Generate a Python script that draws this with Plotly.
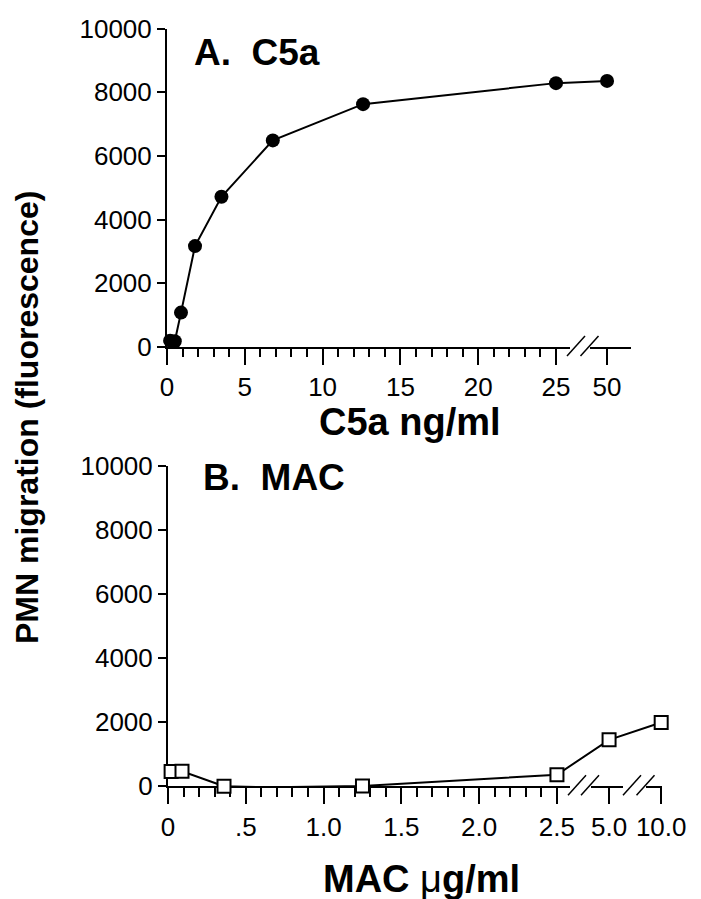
import plotly.graph_objects as go

# ---------------- data ----------------
c5a_conc = [0.2, 0.5, 0.9, 1.8, 3.5, 6.8, 12.6, 25, 50]          # ng/ml
c5a_migration = [200, 180, 1080, 3170, 4720, 6490, 7630, 8290, 8360]

mac_conc = [0.02, 0.09, 0.36, 0.67, 1.25, 2.5, 5.0, 10.0]          # ug/ml
mac_migration = [460, 470, 0, -30, 10, 360, 1450, 1990]

a_tick_vals = [0, 5, 10, 15, 20, 25, 50]
a_tick_text = ["0", "5", "10", "15", "20", "25", "50"]
b_tick_vals = [0, 0.5, 1.0, 1.5, 2.0, 2.5, 5.0, 10.0]
b_tick_text = ["0", ".5", "1.0", "1.5", "2.0", "2.5", "5.0", "10.0"]
y_tick_vals = [0, 2000, 4000, 6000, 8000, 10000]
y_tick_text = ["0", "2000", "4000", "6000", "8000", "10000"]

# ---------------- broken-axis scale ----------------
A_CUT, A_AFTER, A_GAP = 25, [50], 3.28
B_CUT, B_AFTER, B_GAP = 2.5, [5.0, 10.0], 0.335


def broken(v, cut, after, gap):
    if v <= cut:
        return v
    return cut + gap * (after.index(v) + 1)


ax_a = [broken(v, A_CUT, A_AFTER, A_GAP) for v in c5a_conc]
ax_b = [broken(v, B_CUT, B_AFTER, B_GAP) for v in mac_conc]
a_ticks = [broken(v, A_CUT, A_AFTER, A_GAP) for v in a_tick_vals]
b_ticks = [broken(v, B_CUT, B_AFTER, B_GAP) for v in b_tick_vals]
a_minor = [v for v in range(1, 25) if v % 5 != 0]
b_minor = [round(i * 0.1, 1) for i in range(1, 25) if i % 5 != 0]

W, H = 701, 899
FONT = "Liberation Sans, Arial, Helvetica, sans-serif"


def px(x):
    return x / W


def py(y):
    return 1 - y / H


fig = go.Figure()
fig.add_trace(go.Scatter(
    x=ax_a, y=c5a_migration, mode="lines+markers", xaxis="x", yaxis="y",
    line=dict(color="black", width=2),
    marker=dict(symbol="circle", size=14, color="black"),
    cliponaxis=False, showlegend=False))
fig.add_trace(go.Scatter(
    x=ax_b, y=mac_migration, mode="lines+markers", xaxis="x2", yaxis="y2",
    line=dict(color="black", width=2),
    marker=dict(symbol="square", size=13, color="white",
                line=dict(color="black", width=2)),
    cliponaxis=False, showlegend=False))

tickfont = dict(family=FONT, size=26, color="black")
common_x = dict(showgrid=False, zeroline=False, showline=True, linecolor="black",
                linewidth=2, ticks="outside", ticklen=16, tickwidth=2,
                tickcolor="black", tickfont=tickfont, tickmode="array",
                layer="below traces", fixedrange=True, automargin=False)
common_y = dict(showgrid=False, zeroline=False, showline=True, linecolor="black",
                linewidth=2, ticks="outside", ticklen=8, tickwidth=2,
                tickcolor="black", tickfont=tickfont, tickmode="array",
                tickvals=y_tick_vals, ticktext=y_tick_text, range=[0, 10000],
                layer="below traces", fixedrange=True, automargin=False)

fig.update_layout(
    width=W, height=H, margin=dict(l=0, r=0, t=0, b=0, autoexpand=False),
    paper_bgcolor="white", plot_bgcolor="white",
    font=dict(family=FONT, color="black"),
    xaxis=dict(common_x, domain=[px(159), px(623)], anchor="y",
               range=[0, 29.82], tickvals=a_ticks, ticktext=a_tick_text,
               minor=dict(tickmode="array", tickvals=a_minor, ticks="outside",
                          ticklen=8, tickwidth=2, tickcolor="black")),
    yaxis=dict(common_y, domain=[py(339), py(20.7)], anchor="x"),
    xaxis2=dict(common_x, domain=[px(160), px(653.5)], anchor="y2",
                range=[0, 3.172], tickvals=b_ticks, ticktext=b_tick_text,
                minor=dict(tickmode="array", tickvals=b_minor, ticks="outside",
                           ticklen=9, tickwidth=2, tickcolor="black")),
    yaxis2=dict(common_y, domain=[py(778.3), py(458)], anchor="x2"),
)

# break marks on the x axes (white gap + double slash)
shapes = []
for (x0, x1, yl) in [(562, 582, 339), (562, 583, 778.3), (615, 638, 778.3)]:
    shapes.append(dict(type="rect", xref="paper", yref="paper",
                       x0=px(x0), x1=px(x1), y0=py(yl + 4), y1=py(yl - 4),
                       fillcolor="white", line=dict(width=0), layer="above"))
for (sx, yl) in [(559, 339), (572.5, 339), (560, 778.3), (573, 778.3),
                 (615, 778.3), (628.5, 778.3)]:
    shapes.append(dict(type="line", xref="paper", yref="paper",
                       x0=px(sx), y0=py(yl + 9), x1=px(sx + 18), y1=py(yl - 11),
                       line=dict(color="black", width=1.5), layer="above"))
fig.update_layout(shapes=shapes)

ann = []
ann.append(dict(text="<b>A.  C5a</b>", xref="paper", yref="paper",
                x=px(184), y=py(44.5), xanchor="left", yanchor="middle",
                showarrow=False, font=dict(family=FONT, size=37, color="black")))
ann.append(dict(text="<b>B.  MAC</b>", xref="paper", yref="paper",
                x=px(192.7), y=py(469), xanchor="left", yanchor="middle",
                showarrow=False, font=dict(family=FONT, size=37, color="black")))
ann.append(dict(text="<b>C5a ng/ml</b>", xref="paper", yref="paper",
                x=px(402), y=py(413.5), xanchor="center", yanchor="middle",
                showarrow=False, font=dict(family=FONT, size=38, color="black")))
ann.append(dict(text="<b>MAC </b><span style='font-weight:normal'>μ</span><b>g/ml</b>",
                xref="paper", yref="paper",
                x=px(413.5), y=py(871), xanchor="center", yanchor="middle",
                showarrow=False, font=dict(family=FONT, size=38, color="black")))
ann.append(dict(text="<b>PMN migration (fluorescence)</b>", xref="paper", yref="paper",
                x=px(19), y=py(410), xanchor="center", yanchor="middle",
                textangle=-90, showarrow=False,
                font=dict(family=FONT, size=32, color="black")))
fig.update_layout(annotations=ann)

fig.write_html("out.html")
